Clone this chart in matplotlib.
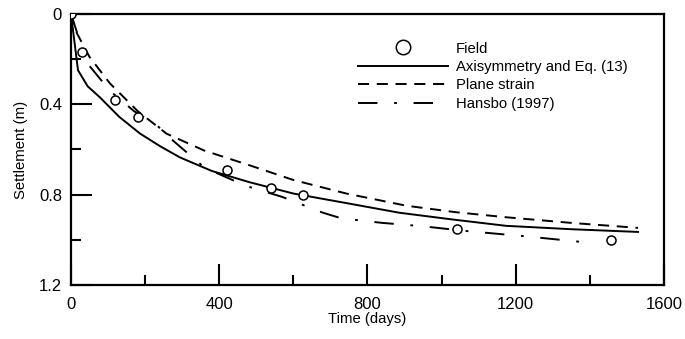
import matplotlib
matplotlib.use("Agg")
import matplotlib.pyplot as plt

# field measurements
field_t = [0, 30, 118, 180, 420, 539, 626, 1042, 1457]
field_s = [0.0, 0.17, 0.382, 0.458, 0.69, 0.769, 0.80, 0.951, 1.0]

# axisymmetry and Eq. (13)
axi_t = [0, 19, 45, 78, 130, 186, 240, 294, 380, 482, 600, 752, 886, 1030, 1174, 1350, 1530]
axi_s = [0.0, 0.249, 0.32, 0.369, 0.455, 0.529, 0.585, 0.635, 0.695, 0.745, 0.795, 0.84, 0.88, 0.91, 0.938, 0.953, 0.965]

# plane strain
ps_t = [0, 16, 50, 105, 180, 258, 360, 482, 600, 743, 905, 1040, 1174, 1350, 1530]
ps_s = [0.0, 0.085, 0.19, 0.307, 0.43, 0.53, 0.605, 0.67, 0.735, 0.795, 0.849, 0.878, 0.9, 0.925, 0.947]

# Hansbo (1997)
han_t = [0, 20, 50, 105, 170, 230, 275, 360, 470, 570, 680, 730, 840, 950, 1060, 1230, 1400]
han_s = [0.0, 0.10, 0.23, 0.34, 0.43, 0.49, 0.56, 0.68, 0.76, 0.81, 0.88, 0.905, 0.925, 0.94, 0.96, 0.985, 1.013]

plt.rcParams["font.family"] = ["Liberation Sans", "DejaVu Sans"]
plt.rcParams["lines.scale_dashes"] = False

fig = plt.figure(figsize=(6.85, 3.39), dpi=100)
ax = fig.add_axes([0.1036, 0.1593, 0.8657, 0.7994])

ax.plot(field_t, field_s, "o", ms=6.5, mfc="white", mec="black", mew=1.1, label="Field", zorder=5)
ax.plot(axi_t, axi_s, "-", color="black", lw=1.4, label="Axisymmetry and Eq. (13)")
ax.plot(ps_t, ps_s, color="black", lw=1.4, dashes=(8, 5.5), label="Plane strain")
ax.plot(han_t, han_s, color="black", lw=1.4, dashes=(14, 12, 2, 12), label="Hansbo (1997)")

ax.set_xlim(0, 1600)
ax.set_ylim(1.2, 0)
ax.set_xticks([0, 400, 800, 1200, 1600])
ax.set_xticks([200, 600, 1000, 1400], minor=True)
ax.set_yticks([0, 0.4, 0.8, 1.2])
ax.set_yticklabels(["0", "0.4", "0.8", "1.2"])
ax.set_yticks([0.2, 0.6, 1.0], minor=True)
ax.tick_params(which="major", direction="in", length=15, width=1.5, labelsize=12)
ax.tick_params(which="minor", direction="in", length=7.5, width=1.5)
ax.tick_params(axis="x", which="major", pad=8.5)
ax.tick_params(axis="y", which="major", pad=6.5)
ax.tick_params(top=False, right=False)
for sp in ax.spines.values():
    sp.set_linewidth(1.6)

ax.set_xlabel("Time (days)", fontsize=10.75, labelpad=0)
ax.set_ylabel("Settlement (m)", fontsize=10.75, labelpad=8)

ax.legend(loc="upper left", bbox_to_anchor=(0.467, 0.937), frameon=False, fontsize=10.75,
          handlelength=6.0, handletextpad=0.55, labelspacing=0.3, markerscale=1.6,
          borderpad=0.2)

fig.savefig("out.png", dpi=100)
